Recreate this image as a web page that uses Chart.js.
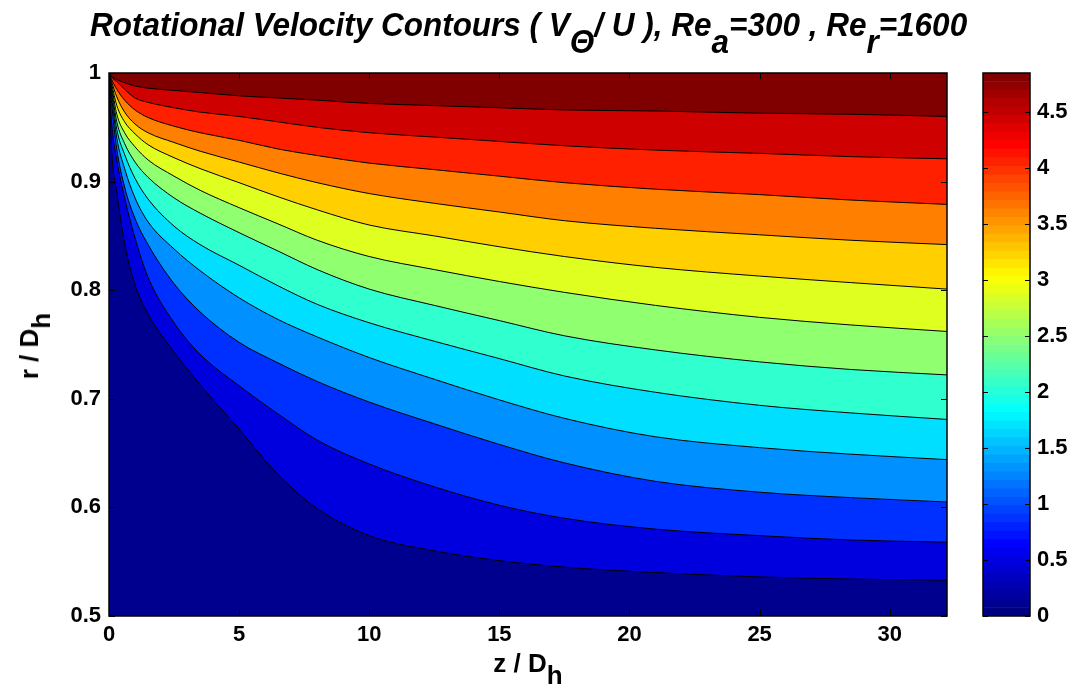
<!DOCTYPE html>
<html>
<head>
<meta charset="utf-8">
<title>Rotational Velocity Contours</title>
<script src="https://cdn.jsdelivr.net/npm/chart.js@4.4.0/dist/chart.umd.min.js"></script>
<style>
  html, body { margin: 0; padding: 0; background: #fff; }
  body { width: 1079px; height: 696px; position: relative; overflow: hidden;
         font-family: 'Liberation Sans', Arial, sans-serif; }
  #plotBox { position: absolute; left: 0; top: 0; width: 960px; height: 696px; }
  #cbarBox { position: absolute; left: 960px; top: 0; width: 119px; height: 696px; }
  .txt { position: absolute; font-weight: bold; color: #000; white-space: nowrap; line-height: 1; }
  .sub { position: relative; top: 0.45em; }
  #title { left: 90px; top: 8px; font-size: 33px; font-style: italic; transform-origin: left top; }
  #title .sub { top: 0.5em; }
  #xTitle { left: 528px; top: 650px; font-size: 26px; transform: translateX(-50%); }
  #yTitle { left: 29px; top: 346px; font-size: 26px; transform: translate(-50%, -50%) rotate(-90deg); }
</style>
</head>
<body>
<div id="plotBox"><canvas id="plot"></canvas></div>
<div id="cbarBox"><canvas id="cbar"></canvas></div>
<div id="title" class="txt">Rotational Velocity Contours ( V<span class="sub">&Theta;</span>/ U ), Re<span class="sub">a</span>=300 , Re<span class="sub">r</span>=1600</div>
<div id="xTitle" class="txt">z / D<span class="sub">h</span></div>
<div id="yTitle" class="txt">r / D<span class="sub">h</span></div>
<script>
/* global Chart */

// axial positions (z / Dh) where each contour line was read
const zPos = [0, 0.1, 0.3, 0.6, 1, 1.5, 2.5, 3.5, 5, 6.5, 8, 10, 12.5, 15, 17.5, 21, 25, 28.5, 32.2];

// r / Dh of each contour line at zPos, lowest level first
const rC1  = [0.998, 0.930, 0.890, 0.843, 0.805, 0.778, 0.743, 0.713, 0.672, 0.630, 0.599, 0.574, 0.560, 0.551, 0.545, 0.540, 0.536, 0.534, 0.533];
const rC2  = [0.999, 0.955, 0.920, 0.885, 0.848, 0.812, 0.770, 0.741, 0.712, 0.686, 0.662, 0.640, 0.619, 0.602, 0.590, 0.580, 0.574, 0.570, 0.568];
const rC3  = [0.999, 0.972, 0.930, 0.895, 0.866, 0.842, 0.806, 0.780, 0.752, 0.733, 0.716, 0.697, 0.677, 0.658, 0.641, 0.624, 0.614, 0.609, 0.605];
const rC4  = [0.999, 0.978, 0.940, 0.912, 0.885, 0.863, 0.838, 0.818, 0.793, 0.773, 0.757, 0.738, 0.718, 0.699, 0.682, 0.665, 0.655, 0.649, 0.644];
const rC5  = [0.999, 0.982, 0.948, 0.925, 0.903, 0.884, 0.859, 0.842, 0.823, 0.804, 0.787, 0.770, 0.753, 0.737, 0.721, 0.706, 0.694, 0.687, 0.681];
const rC6  = [0.999, 0.985, 0.955, 0.935, 0.918, 0.904, 0.885, 0.871, 0.853, 0.836, 0.819, 0.801, 0.786, 0.772, 0.758, 0.745, 0.734, 0.727, 0.722];
const rC7  = [0.999, 0.988, 0.962, 0.945, 0.932, 0.920, 0.905, 0.892, 0.876, 0.861, 0.846, 0.831, 0.819, 0.808, 0.798, 0.786, 0.775, 0.768, 0.762];
const rC8  = [1.000, 0.990, 0.970, 0.955, 0.944, 0.934, 0.922, 0.912, 0.899, 0.886, 0.874, 0.860, 0.850, 0.840, 0.831, 0.821, 0.813, 0.807, 0.801];
const rC9  = [1.000, 0.992, 0.978, 0.964, 0.953, 0.945, 0.936, 0.928, 0.918, 0.908, 0.899, 0.889, 0.880, 0.872, 0.864, 0.857, 0.851, 0.846, 0.842];
const rC10 = [1.000, 0.994, 0.985, 0.975, 0.966, 0.959, 0.951, 0.945, 0.938, 0.930, 0.924, 0.917, 0.911, 0.905, 0.899, 0.893, 0.888, 0.883, 0.879];
const rC11 = [1.000, 0.996, 0.992, 0.985, 0.977, 0.973, 0.968, 0.964, 0.960, 0.955, 0.950, 0.945, 0.941, 0.937, 0.933, 0.929, 0.926, 0.923, 0.921];
const rC12 = [1.000, 0.997, 0.994, 0.991, 0.988, 0.986, 0.984, 0.982, 0.979, 0.977, 0.975, 0.972, 0.970, 0.968, 0.966, 0.965, 0.963, 0.962, 0.960];

// tick labels
const zTicks = [0, 5, 10, 15, 20, 25, 30];
const rTicks = [0.5, 0.6, 0.7, 0.8, 0.9, 1];
const cbarTicks = [0, 0.5, 1, 1.5, 2, 2.5, 3, 3.5, 4, 4.5];
const cbarMax = 4.85;
const cbarSteps = 64;

// band fill colours, bottom band first (band i lies below contour i)
const bandColors = ['#00008F', '#0000DF', '#0030FF', '#0090FF', '#00DFFF', '#30FFCF', '#90FF70',
                    '#DFFF20', '#FFCF00', '#FF8000', '#FF2000', '#CF0000', '#800000'];

const plotArea = { left: 109, top: 73, right: 947, bottom: 616 };
const tickFont = { family: "'Liberation Sans', Arial, sans-serif", size: 22, weight: 'bold' };

function jet(t) {
  const c = (v) => Math.round(255 * Math.max(0, Math.min(1, v)));
  return `rgb(${c(1.5 - Math.abs(4 * t - 3))},${c(1.5 - Math.abs(4 * t - 2))},${c(1.5 - Math.abs(4 * t - 1))})`;
}

/* fill the area above the top contour, then inward ticks and the box */
const boxPlugin = {
  id: 'box',
  beforeDatasetsDraw(chart, args, opts) {
    if (!opts.topColor) return;
    const a = chart.chartArea, ctx = chart.ctx;
    ctx.save();
    ctx.fillStyle = opts.topColor;
    ctx.fillRect(a.left, a.top, a.right - a.left, a.bottom - a.top);
    ctx.restore();
  },
  afterDraw(chart, args, opts) {
    const a = chart.chartArea, ctx = chart.ctx, len = opts.tickLen || 6;
    ctx.save();
    ctx.strokeStyle = '#000';
    ctx.lineWidth = 1;
    ctx.beginPath();
    if (opts.xTicks) {
      opts.xTicks.forEach(v => {
        const px = Math.round(chart.scales.x.getPixelForValue(v)) + 0.5;
        ctx.moveTo(px, a.bottom); ctx.lineTo(px, a.bottom - len);
        ctx.moveTo(px, a.top); ctx.lineTo(px, a.top + len);
      });
    }
    opts.yTicks.forEach(v => {
      const py = Math.round(chart.scales.y.getPixelForValue(v)) + 0.5;
      ctx.moveTo(a.left, py); ctx.lineTo(a.left + len, py);
      ctx.moveTo(a.right, py); ctx.lineTo(a.right - len, py);
    });
    ctx.stroke();
    ctx.lineWidth = 1.5;
    ctx.strokeRect(a.left, a.top, a.right - a.left, a.bottom - a.top);
    ctx.restore();
  }
};

const contours = [rC1, rC2, rC3, rC4, rC5, rC6, rC7, rC8, rC9, rC10, rC11, rC12];

new Chart(document.getElementById('plot'), {
  type: 'line',
  data: {
    datasets: contours.map((rs, i) => ({
      data: zPos.map((z, j) => ({ x: z, y: rs[j] })),
      fill: 'start',
      backgroundColor: bandColors[i],
      borderColor: '#000',
      borderWidth: 1,
      pointRadius: 0,
      cubicInterpolationMode: 'monotone',
      order: i
    }))
  },
  options: {
    responsive: true,
    maintainAspectRatio: false,
    animation: false,
    events: [],
    layout: { padding: { top: plotArea.top, right: 960 - plotArea.right, left: 0, bottom: 0 } },
    plugins: {
      legend: { display: false },
      tooltip: { enabled: false },
      box: { topColor: bandColors[12], xTicks: zTicks, yTicks: rTicks, tickLen: 6 }
    },
    scales: {
      x: {
        type: 'linear', min: 0, max: 32.2,
        afterBuildTicks: (s) => { s.ticks = zTicks.map(v => ({ value: v })); },
        afterFit: (s) => { s.height = 696 - plotArea.bottom; },
        grid: { display: false, drawTicks: false },
        border: { display: false },
        ticks: { color: '#000', font: tickFont, padding: 6, maxRotation: 0, autoSkip: false }
      },
      y: {
        type: 'linear', min: 0.5, max: 1,
        afterBuildTicks: (s) => { s.ticks = rTicks.map(v => ({ value: v })); },
        afterFit: (s) => { s.width = plotArea.left; },
        grid: { display: false, drawTicks: false },
        border: { display: false },
        ticks: { color: '#000', font: tickFont, padding: 8, autoSkip: false, callback: (v) => String(v) }
      }
    }
  },
  plugins: [boxPlugin]
});

/* colour bar: 64 stacked swatches of the jet map */
const step = cbarMax / cbarSteps;
new Chart(document.getElementById('cbar'), {
  type: 'bar',
  data: {
    labels: [''],
    datasets: Array.from({ length: cbarSteps }, (_, i) => ({
      data: [[i * step, (i + 1) * step]],
      backgroundColor: jet(i / (cbarSteps - 1)),
      borderWidth: 0,
      grouped: false,
      barPercentage: 1,
      categoryPercentage: 1
    }))
  },
  options: {
    responsive: true,
    maintainAspectRatio: false,
    animation: false,
    events: [],
    layout: { padding: { top: plotArea.top, left: 23, right: 0, bottom: 696 - plotArea.bottom } },
    plugins: {
      legend: { display: false },
      tooltip: { enabled: false },
      box: { yTicks: cbarTicks, tickLen: 5 }
    },
    scales: {
      x: { display: false },
      y: {
        position: 'right', min: 0, max: cbarMax,
        afterBuildTicks: (s) => { s.ticks = cbarTicks.map(v => ({ value: v })); },
        afterFit: (s) => { s.width = 1079 - 1030; },
        grid: { display: false, drawTicks: false },
        border: { display: false },
        ticks: { color: '#000', font: tickFont, padding: 7, autoSkip: false, callback: (v) => String(v) }
      }
    }
  },
  plugins: [boxPlugin]
});

/* squeeze the title to the width it has in the figure */
const title = document.getElementById('title');
const k = 877 / title.scrollWidth;
title.style.transform = `scaleX(${k.toFixed(3)})`;
</script>
</body>
</html>
